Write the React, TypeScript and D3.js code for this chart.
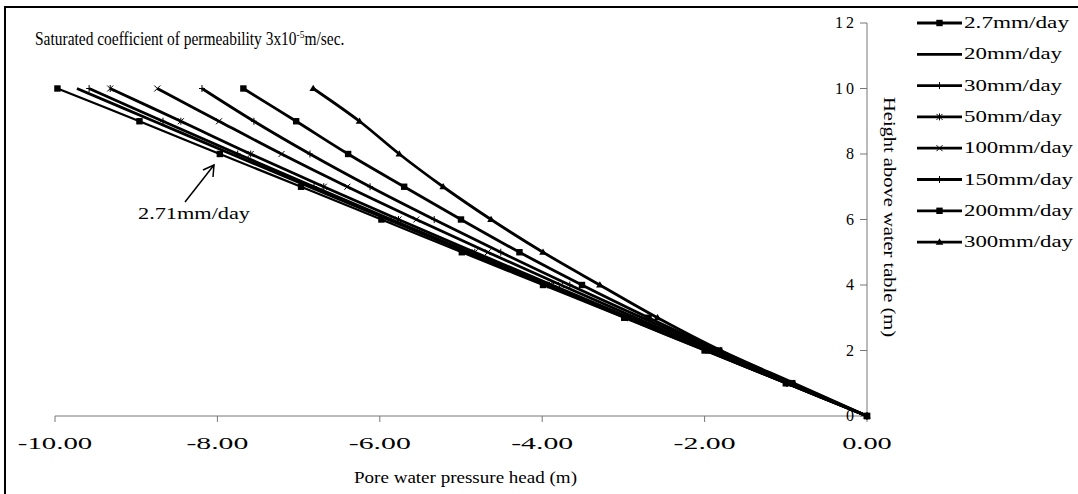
import React from 'react';
import * as d3 from 'd3';

// Height above water table (m) at which each series value is read
const heights = [0, 1, 2, 3, 4, 5, 6, 7, 8, 9, 10];

// Pore water pressure head (m) per infiltration rate
const s2_7 = [0, -1.0, -2.0, -2.99, -3.99, -4.99, -5.98, -6.97, -7.97, -8.96, -9.97];
const s20 = [0, -0.99, -1.98, -2.97, -3.95, -4.93, -5.9, -6.87, -7.83, -8.78, -9.73];
const s30 = [0, -0.99, -1.97, -2.95, -3.93, -4.9, -5.86, -6.81, -7.75, -8.67, -9.58];
const s50 = [0, -0.98, -1.95, -2.92, -3.88, -4.83, -5.77, -6.69, -7.59, -8.45, -9.32];
const s100 = [0, -0.96, -1.91, -2.85, -3.77, -4.67, -5.55, -6.4, -7.21, -7.98, -8.74];
const s150 = [0, -0.94, -1.86, -2.77, -3.66, -4.51, -5.33, -6.12, -6.86, -7.55, -8.19];
const s200 = [0, -0.92, -1.82, -2.69, -3.51, -4.28, -5.0, -5.7, -6.39, -7.03, -7.68];
const s300 = [0, -0.9, -1.8, -2.58, -3.29, -3.99, -4.63, -5.22, -5.76, -6.25, -6.82];

const seriesNames = ['2.7mm/day', '20mm/day', '30mm/day', '50mm/day', '100mm/day', '150mm/day', '200mm/day', '300mm/day'];
const seriesValues = [s2_7, s20, s30, s50, s100, s150, s200, s300];
const seriesMarkers = ['square', 'none', 'plus', 'star', 'cross', 'plus', 'square', 'triangle'];

const xTicks = [-10, -8, -6, -4, -2, 0];
const yTicks = [0, 2, 4, 6, 8, 10, 12];

const FONT = '"Liberation Serif", "Times New Roman", serif';

function Marker({ type, cx, cy }: { type: string; cx: number; cy: number }) {
  const s = 3.2;
  switch (type) {
    case 'square':
      return <rect x={cx - s} y={cy - s} width={2 * s} height={2 * s} fill="#000" />;
    case 'triangle':
      return <path d={`M${cx},${cy - 3.8}L${cx + 3.8},${cy + 2.6}L${cx - 3.8},${cy + 2.6}Z`} fill="#000" />;
    case 'plus':
      return (
        <g stroke="#000" strokeWidth={1}>
          <line x1={cx - 3} y1={cy} x2={cx + 3} y2={cy} />
          <line x1={cx} y1={cy - 3.5} x2={cx} y2={cy + 3.5} />
        </g>
      );
    case 'cross':
      return (
        <g stroke="#000" strokeWidth={1}>
          <line x1={cx - 3} y1={cy - 3} x2={cx + 3} y2={cy + 3} />
          <line x1={cx - 3} y1={cy + 3} x2={cx + 3} y2={cy - 3} />
        </g>
      );
    case 'star':
      return (
        <g stroke="#000" strokeWidth={1}>
          <line x1={cx - 3} y1={cy - 3} x2={cx + 3} y2={cy + 3} />
          <line x1={cx - 3} y1={cy + 3} x2={cx + 3} y2={cy - 3} />
          <line x1={cx} y1={cy - 3.5} x2={cx} y2={cy + 3.5} />
        </g>
      );
    default:
      return null;
  }
}

export default function App() {
  const W = 1078;
  const H = 494;
  const x = d3.scaleLinear().domain([-10, 0]).range([55, 867]);
  const y = d3.scaleLinear().domain([0, 12]).range([416, 23]);
  const line = d3
    .line<number>()
    .x((d) => x(d))
    .y((_, i) => y(heights[i]))
    .curve(d3.curveCatmullRom);

  const legendX0 = 917;
  const legendX1 = 962;
  const legendY0 = 23;
  const legendDy = 31.3;

  const legendLen = (n: string) => (n.startsWith('2.7') ? 105 : n.length >= 9 ? 109 : 98);

  return (
    <svg
      width={W}
      height={H}
      style={{ position: 'absolute', left: 0, top: 0, background: '#fff' }}
      fontFamily={FONT}
    >
      <rect x={0} y={0} width={W} height={H} fill="#fff" />
      <rect x={5} y={7} width={W + 20} height={H + 20} fill="none" stroke="#000" strokeWidth={2} />

      {/* title */}
      <text transform="translate(35,45) scale(0.86,1)" fontSize={18} fill="#000">
        Saturated coefficient of permeability 3x10
        <tspan fontSize={11} dy={-7}>-5</tspan>
        <tspan dy={7}>m/sec.</tspan>
      </text>

      {/* x axis */}
      <line x1={x(-10)} x2={x(0)} y1={y(0)} y2={y(0)} stroke="#777" strokeWidth={1} />
      {xTicks.map((t) => {
        const label = t.toFixed(2);
        return (
          <g key={t}>
            <line x1={x(t)} x2={x(t)} y1={y(0)} y2={y(0) + 6} stroke="#777" />
            <text
              x={x(t) - label.length * 6.2}
              y={y(0) + 33}
              fontSize={17}
              fill="#000"
              textLength={label.length * 12.4}
              lengthAdjust="spacingAndGlyphs"
            >
              {label}
            </text>
          </g>
        );
      })}
      <text x={354} y={483} fontSize={16} fill="#000" textLength={223} lengthAdjust="spacingAndGlyphs">
        Pore water pressure head (m)
      </text>

      {/* y axis */}
      <line x1={x(0)} x2={x(0)} y1={y(0)} y2={y(12)} stroke="#777" strokeWidth={1} />
      {yTicks.map((t) => (
        <g key={t}>
          <line x1={x(0) - 7} x2={x(0)} y1={y(t)} y2={y(t)} stroke="#777" />
          <text x={x(0) - 10} y={y(t) + 5} fontSize={16} letterSpacing={3} textAnchor="end" fill="#000">
            {t}
          </text>
        </g>
      ))}
      <text
        transform={`translate(884,97) rotate(90)`}
        fontSize={17}
        fill="#000"
        textLength={240}
        lengthAdjust="spacingAndGlyphs"
      >
        Height above water table (m)
      </text>

      {/* series */}
      {seriesValues.map((vals, si) => (
        <g key={seriesNames[si]}>
          <path d={line(vals) || ''} fill="none" stroke="#000" strokeWidth={si === 0 ? 2.2 : 2.8} />
          {vals.map((v, i) => (
            <Marker key={i} type={seriesMarkers[si]} cx={x(v)} cy={y(heights[i])} />
          ))}
        </g>
      ))}

      {/* annotation */}
      <g stroke="#000" strokeWidth={1.5} fill="none">
        <line x1={185} y1={202} x2={214} y2={165} />
        <path d="M203,170 L214,165 L213,177" />
      </g>
      <text x={138} y={219} fontSize={16} fill="#000" textLength={112} lengthAdjust="spacingAndGlyphs">
        2.71mm/day
      </text>

      {/* legend */}
      {seriesNames.map((n, i) => {
        const ly = legendY0 + i * legendDy;
        return (
          <g key={n}>
            <line x1={legendX0} x2={legendX1} y1={ly} y2={ly} stroke="#000" strokeWidth={2.8} />
            <Marker type={seriesMarkers[i]} cx={(legendX0 + legendX1) / 2} cy={ly} />
            <text
              x={legendX1 + 2}
              y={ly + 5}
              fontSize={16}
              fill="#000"
              textLength={legendLen(n)}
              lengthAdjust="spacingAndGlyphs"
            >
              {n}
            </text>
          </g>
        );
      })}
    </svg>
  );
}
